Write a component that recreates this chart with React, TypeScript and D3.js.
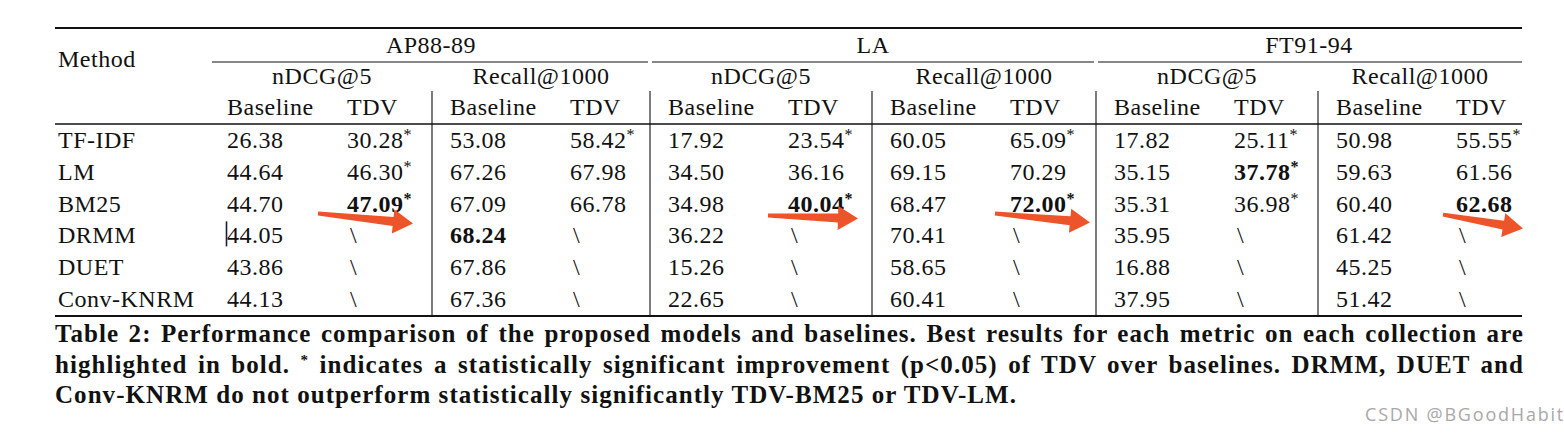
import React, { useLayoutEffect, useRef } from "react";
import * as d3 from "d3";

// ---------- data ----------
const methods = ["TF-IDF", "LM", "BM25", "DRMM", "DUET", "Conv-KNRM"];
const collections = ["AP88-89", "LA", "FT91-94"];
const metrics = ["nDCG@5", "Recall@1000"];
const variants = ["Baseline", "TDV"];

const tfidfValues = [26.38, 30.28, 53.08, 58.42, 17.92, 23.54, 60.05, 65.09, 17.82, 25.11, 50.98, 55.55];
const lmValues = [44.64, 46.3, 67.26, 67.98, 34.5, 36.16, 69.15, 70.29, 35.15, 37.78, 59.63, 61.56];
const bm25Values = [44.7, 47.09, 67.09, 66.78, 34.98, 40.04, 68.47, 72.0, 35.31, 36.98, 60.4, 62.68];
const drmmValues = [44.05, null, 68.24, null, 36.22, null, 70.41, null, 35.95, null, 61.42, null];
const duetValues = [43.86, null, 67.86, null, 15.26, null, 58.65, null, 16.88, null, 45.25, null];
const convKnrmValues = [44.13, null, 67.36, null, 22.65, null, 60.41, null, 37.95, null, 51.42, null];

const significantCells: Record<string, number[]> = {
  "TF-IDF": [1, 3, 5, 7, 9, 11],
  LM: [1, 9],
  BM25: [1, 5, 7, 9],
};
const bestCells: Record<string, number[]> = {
  LM: [9],
  BM25: [1, 5, 7, 11],
  DRMM: [2],
};
const arrowedCells = [1, 5, 7, 11]; // red arrows drawn on the BM25 row

const captionLine1 =
  "Table 2: Performance comparison of the proposed models and baselines. Best results for each metric on each collection are";
const captionLine2a = "highlighted in bold. ";
const captionLine2b = " indicates a statistically significant improvement (p<0.05) of TDV over baselines. DRMM, DUET and";
const captionLine3 = "Conv-KNRM do not outperform statistically significantly TDV-BM25 or TDV-LM.";
const watermark = "CSDN @BGoodHabit";

const rowValues = [tfidfValues, lmValues, bm25Values, drmmValues, duetValues, convKnrmValues];

// ---------- layout ----------
const W = 1564;
const H = 434;
const FONT = "'Liberation Serif', 'Times New Roman', serif";
const FS = 24;
const LS = 0.5;
const INK = "#111";
const ARROW = "#ee5429";

const ruleLeft = 55;
const ruleRight = 1522;
const yTop = 28;
const yCmid = 62;
const yMid = 124;
const yBottom = 316;
const captionRight = 1524;
const captionLastLineWidth = 962;

const xSub = d3
  .scaleLinear()
  .domain([0, 1, 2, 3, 4, 5, 6])
  .range([209, 432, 650, 872, 1096, 1318, 1540]);
const colX = (i: number) => xSub(Math.floor(i / 2)) + (i % 2 === 0 ? 18 : 138);
const yRow = d3.scalePoint<string>().domain(methods).range([140, 299]);
const fmt = d3.format(".2f");

function arrowPath(tx: number, ty: number, px: number, py: number) {
  const dx = px - tx;
  const dy = py - ty;
  const len = Math.hypot(dx, dy);
  const ux = dx / len;
  const uy = dy / len;
  const nx = -uy;
  const ny = ux;
  const headLen = 20;
  const headHalf = 12;
  const s0 = 2;
  const s1 = 4.5;
  const bx = px - ux * headLen;
  const by = py - uy * headLen;
  const pts: [number, number][] = [
    [tx + nx * s0, ty + ny * s0],
    [bx + nx * s1, by + ny * s1],
    [bx + nx * headHalf, by + ny * headHalf],
    [px, py],
    [bx - nx * headHalf, by - ny * headHalf],
    [bx - nx * s1, by - ny * s1],
    [tx - nx * s0, ty - ny * s0],
  ];
  return d3.line()(pts) + "Z";
}

// arrow offsets relative to each arrowed cell (hand-drawn annotations)
const arrowOffsets = [
  { t: [-29, 10], p: [66, 20] },
  { t: [-20, 12], p: [70, 15] },
  { t: [-15, 10], p: [80, 19] },
  { t: [-13, 11], p: [67, 25] },
];

export default function App() {
  const ref = useRef<SVGSVGElement>(null);

  useLayoutEffect(() => {
    const layoutCaption = () => {
      if (!ref.current) return;
      const root = d3.select(ref.current);
      const all = root.selectAll<SVGTextElement, unknown>("text.caption");
      all.attr("letter-spacing", 0).attr("word-spacing", 0);
      // letter spacing so the (unjustified) last line has the reference width
      const last = root.select<SVGTextElement>("text.caption-last").node();
      if (!last) return;
      const n = (last.textContent || "").length;
      const ls = (captionLastLineWidth - last.getComputedTextLength()) / n;
      all.attr("letter-spacing", ls);
      root.selectAll<SVGTextElement, unknown>("text.justify").each(function () {
        const el = this;
        const natural = el.getComputedTextLength();
        const spaces = ((el.textContent || "").match(/ /g) || []).length;
        const target = captionRight - ruleLeft;
        if (spaces > 0) el.setAttribute("word-spacing", String((target - natural) / spaces));
      });
    };
    layoutCaption();
    if ((document as any).fonts) (document as any).fonts.ready.then(layoutCaption);
  }, []);

  return (
    <svg
      ref={ref}
      width={W}
      height={H}
      style={{ position: "absolute", left: 0, top: 0, background: "#fff" }}
      fontFamily={FONT}
    >
      <rect x={0} y={0} width={W} height={H} fill="#fff" />

      {/* rules */}
      <line x1={ruleLeft} x2={ruleRight} y1={yTop} y2={yTop} stroke={INK} strokeWidth={1.8} />
      <line x1={ruleLeft} x2={ruleRight} y1={yMid} y2={yMid} stroke={INK} strokeWidth={1.3} />
      <line x1={ruleLeft} x2={ruleRight} y1={yBottom} y2={yBottom} stroke={INK} strokeWidth={1.8} />
      {collections.map((c, k) => {
        const left = k === 0 ? 212 : xSub(2 * k) + 2;
        const right = k === collections.length - 1 ? ruleRight : xSub(2 * k + 2) - 2;
        return <line key={c} x1={left} x2={right} y1={yCmid} y2={yCmid} stroke={INK} strokeWidth={1.1} />;
      })}
      {d3.range(1, 6).map((g) => (
        <line key={g} x1={xSub(g)} x2={xSub(g)} y1={91} y2={yBottom} stroke={INK} strokeWidth={1.1} />
      ))}

      {/* header */}
      <g fontSize={FS} fill={INK} letterSpacing={LS}>
        <text x={58} y={67}>Method</text>
        {collections.map((c, k) => {
          const left = k === 0 ? 212 : xSub(2 * k);
          const right = k === collections.length - 1 ? ruleRight : xSub(2 * k + 2);
          return (
            <text key={c} x={(left + right) / 2} y={53} textAnchor="middle">
              {c}
            </text>
          );
        })}
        {d3.range(6).map((g) => {
          const left = g === 0 ? 212 : xSub(g);
          const right = g === 5 ? ruleRight : xSub(g + 1);
          return (
            <text key={g} x={(left + right) / 2} y={84} textAnchor="middle">
              {metrics[g % 2]}
            </text>
          );
        })}
        {d3.range(12).map((i) => (
          <text key={i} x={colX(i)} y={115}>
            {variants[i % 2]}
          </text>
        ))}
      </g>

      {/* body */}
      <g fontSize={FS} fill={INK} letterSpacing={LS}>
        {methods.map((m, r) => {
          const cy = yRow(m)!;
          const vals = rowValues[r];
          const sig = significantCells[m] || [];
          const best = bestCells[m] || [];
          return (
            <g key={m}>
              <text x={58} y={cy + 8}>
                {m}
              </text>
              {vals.map((v, i) =>
                v === null ? (
                  <text key={i} x={colX(i) + 3} y={cy + 8}>
                    {"\\"}
                  </text>
                ) : (
                  <text key={i} x={colX(i)} y={cy + 8} fontWeight={best.includes(i) ? "bold" : "normal"}>
                    {fmt(v)}
                    {sig.includes(i) && (
                      <tspan fontSize={16} dy={-8}>
                        *
                      </tspan>
                    )}
                  </text>
                )
              )}
            </g>
          );
        })}
      </g>

      {/* text-cursor artefact before DRMM's first value */}
      <line
        x1={colX(0) - 0.5}
        x2={colX(0) - 0.5}
        y1={yRow("DRMM")! - 14}
        y2={yRow("DRMM")! + 11}
        stroke="#1c1c3a"
        strokeWidth={1.6}
      />

      {/* red arrows */}
      {arrowedCells.map((ci, k) => {
        const cx = colX(ci);
        const cy = yRow("BM25")!;
        const o = arrowOffsets[k];
        return (
          <path
            key={ci}
            d={arrowPath(cx + o.t[0], cy + o.t[1], cx + o.p[0], cy + o.p[1])}
            fill={ARROW}
          />
        );
      })}

      {/* caption */}
      <g fontSize={25} fontWeight="bold" fill={INK}>
        <text className="caption justify" x={ruleLeft} y={342}>
          {captionLine1}
        </text>
        <text className="caption justify" x={ruleLeft} y={373}>
          <tspan>{captionLine2a}</tspan>
          <tspan fontSize={15} dy={-8}>
            *
          </tspan>
          <tspan dy={8}>{captionLine2b}</tspan>
        </text>
        <text className="caption caption-last" x={ruleLeft} y={403}>
          {captionLine3}
        </text>
      </g>

      {/* watermark */}
      <text
        x={1365}
        y={421}
        fontFamily="'Open Sans', 'Noto Sans', sans-serif"
        fontSize={18}
        letterSpacing={1.8}
        fill="#a8a8a8"
      >
        {watermark}
      </text>
    </svg>
  );
}
